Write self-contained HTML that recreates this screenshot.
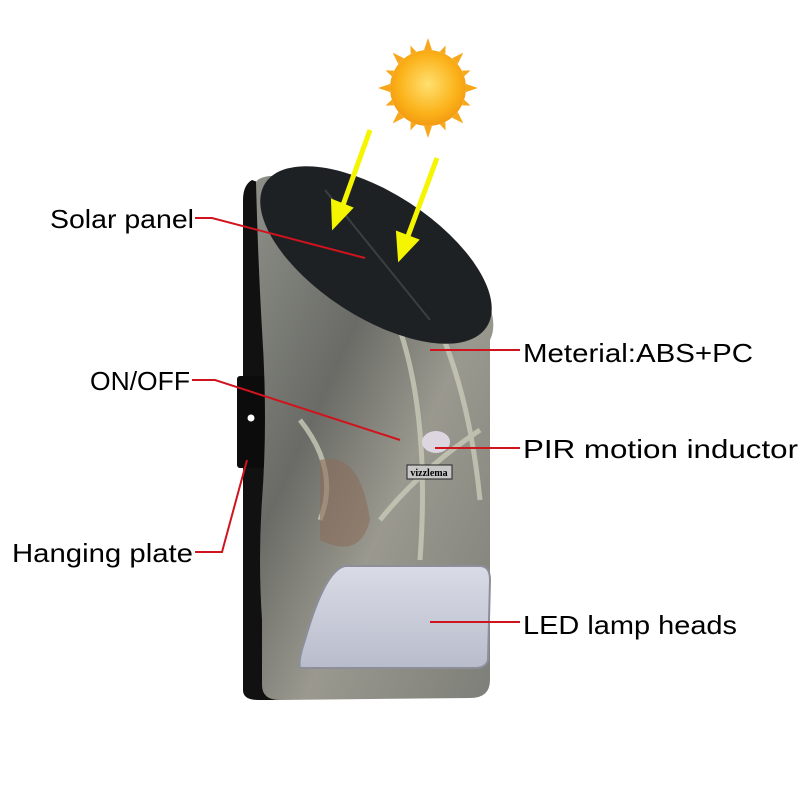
<!DOCTYPE html>
<html><head><meta charset="utf-8"><style>
html,body{margin:0;padding:0;background:#fff}
svg{display:block}
text{font-family:"Liberation Sans",sans-serif;font-size:26px;fill:#000}
</style></head><body>
<svg width="800" height="800" viewBox="0 0 800 800" xmlns="http://www.w3.org/2000/svg">
<defs>
<radialGradient id="sun" cx="50%" cy="45%" r="55%">
<stop offset="0" stop-color="#ffe070"/><stop offset="0.7" stop-color="#fbb21a"/><stop offset="1" stop-color="#f39a10"/>
</radialGradient>
<linearGradient id="camo" x1="0" y1="0" x2="1" y2="1">
<stop offset="0" stop-color="#8d8f88"/><stop offset="0.35" stop-color="#6a6b66"/><stop offset="0.6" stop-color="#9a998f"/><stop offset="1" stop-color="#7d7e78"/>
</linearGradient>
<linearGradient id="led" x1="0" y1="0" x2="0" y2="1">
<stop offset="0" stop-color="#d9dbe6"/><stop offset="1" stop-color="#b9bccb"/>
</linearGradient>
</defs>
<!-- sun -->
<g transform="translate(428,88)">
<g fill="#f7a81a">
<polygon points="-4,-38 4,-38 0,-50"/><polygon points="-4,38 4,38 0,50"/>
<polygon points="-38,-4 -38,4 -50,0"/><polygon points="38,-4 38,4 50,0"/>
<g transform="rotate(45)"><polygon points="-4,-38 4,-38 0,-50"/><polygon points="-4,38 4,38 0,50"/><polygon points="-38,-4 -38,4 -50,0"/><polygon points="38,-4 38,4 50,0"/></g>
<g transform="rotate(22.5)"><polygon points="-3,-38 3,-38 0,-46"/><polygon points="-3,38 3,38 0,46"/><polygon points="-38,-3 -38,3 -46,0"/><polygon points="38,-3 38,3 46,0"/></g>
<g transform="rotate(67.5)"><polygon points="-3,-38 3,-38 0,-46"/><polygon points="-3,38 3,38 0,46"/><polygon points="-38,-3 -38,3 -46,0"/><polygon points="38,-3 38,3 46,0"/></g>
</g>
<circle r="38" fill="url(#sun)"/>
</g>
<!-- black back -->
<path d="M252,180 Q243,185 243,200 L243,690 Q243,700 258,700 L280,700 L280,190 Z" fill="#111"/>
<rect x="237" y="376" width="30" height="92" rx="3" fill="#0c0c0c"/>
<circle cx="251" cy="418" r="3.5" fill="#fff"/>
<!-- camo body -->
<path d="M256,182 Q262,172 300,178 Q420,200 480,285 Q500,320 490,340 L490,680 Q490,698 470,698 L280,700 Q262,700 262,685 L262,620 Q258,560 262,500 Q268,420 262,330 Q258,260 256,182 Z" fill="url(#camo)"/>
<g stroke="#c9cbb8" stroke-width="5" fill="none" opacity="0.8">
<path d="M400,330 Q430,420 420,560"/><path d="M440,330 Q470,400 480,500"/><path d="M380,520 Q420,470 480,430"/><path d="M300,420 Q340,470 320,520"/>
</g>
<path d="M320,460 Q360,450 370,520 Q360,560 320,540 Z" fill="#8a6e5a" opacity="0.6"/>
<!-- solar panel -->
<ellipse cx="376" cy="255" rx="132" ry="62" transform="rotate(33 376 255)" fill="#1e2124"/>
<line x1="325" y1="190" x2="430" y2="320" stroke="#3a3f44" stroke-width="2"/>
<!-- LED -->
<path d="M345,566 L480,566 Q490,566 490,580 L488,660 Q486,668 475,668 L300,668 Q298,660 305,640 Q325,570 345,566 Z" fill="url(#led)" stroke="#8c8f99" stroke-width="2"/>
<!-- PIR -->
<ellipse cx="436" cy="442" rx="14" ry="11" fill="#ddd6e0"/>
<rect x="407" y="465" width="45" height="14" fill="#c8c8c8" stroke="#222" stroke-width="1"/>
<text x="429" y="476" style="font-family:'Liberation Serif',serif;font-size:10px;font-weight:bold" text-anchor="middle">vizzlema</text>
<!-- arrows -->
<g stroke="#f5f500" stroke-width="5" fill="#f5f500">
<line x1="370" y1="130" x2="343" y2="205"/><polygon points="333,228 332,200 352,208" stroke-width="2"/>
<line x1="437" y1="158" x2="408" y2="236"/><polygon points="399,260 397,232 418,240" stroke-width="2"/>
</g>
<!-- leader lines -->
<g stroke="#d0141e" stroke-width="2" fill="none">
<polyline points="195,218 212,218 365,258"/>
<line x1="430" y1="350" x2="520" y2="350"/>
<polyline points="192,380 215,380 400,440"/>
<line x1="435" y1="448" x2="520" y2="448"/>
<polyline points="195,552 222,552 247,460"/>
<line x1="430" y1="622" x2="520" y2="622"/>
</g>
<text x="50" y="228" textLength="144" lengthAdjust="spacingAndGlyphs">Solar panel</text>
<text x="523" y="362" textLength="230" lengthAdjust="spacingAndGlyphs">Meterial:ABS+PC</text>
<text x="90" y="390" textLength="100" lengthAdjust="spacingAndGlyphs">ON/OFF</text>
<text x="523" y="458" textLength="275" lengthAdjust="spacingAndGlyphs">PIR motion inductor</text>
<text x="12" y="562" textLength="181" lengthAdjust="spacingAndGlyphs">Hanging plate</text>
<text x="523" y="634" textLength="214" lengthAdjust="spacingAndGlyphs">LED lamp heads</text>
</svg>
</body></html>
